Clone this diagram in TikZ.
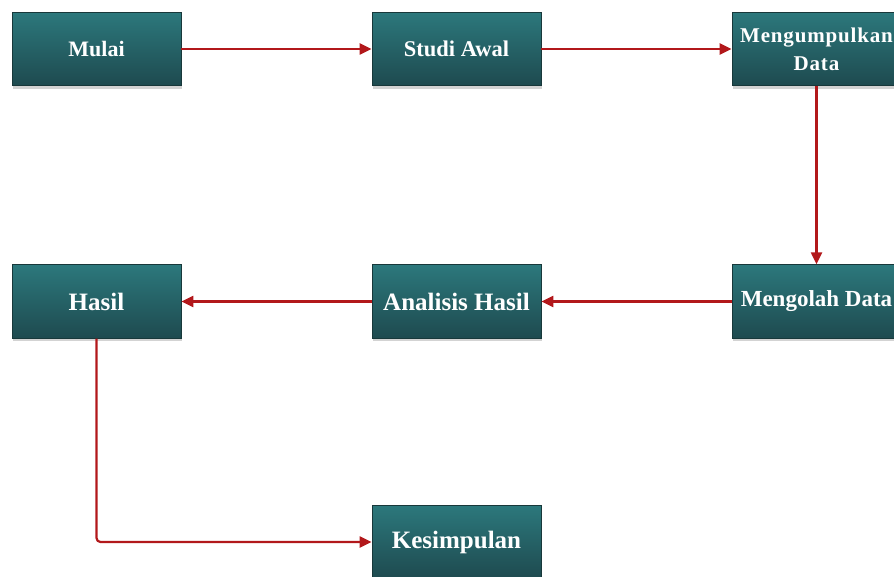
\documentclass[tikz,border=0pt]{standalone}
\usepackage{fontspec}
\setmainfont{Liberation Serif}
\newfontfamily\spacedserif[LetterSpace=4]{Liberation Serif}
\usetikzlibrary{arrows.meta,shadows}
\definecolor{boxtop}{RGB}{44,120,124}
\definecolor{boxbot}{RGB}{30,74,79}
\definecolor{boxline}{RGB}{24,56,58}
\definecolor{arrred}{RGB}{178,24,27}
\tikzset{
  stepbox/.style={draw=boxline, line width=0.8pt, top color=boxtop, bottom color=boxbot,
    minimum width=169pt, minimum height=73.5pt, inner sep=0pt, text=white,
    align=center,
    drop shadow={opacity=0.35, shadow xshift=1pt, shadow yshift=-3pt}},
  arr/.style={draw=arrred, line width=2.2pt, -{Triangle[length=12pt,width=11pt]}},
}
\begin{document}
\begin{tikzpicture}[x=1pt,y=-1pt]
\useasboundingbox (0,0) rectangle (894,577);
\node[stepbox, font=\bfseries\fontsize{22}{26}\selectfont] (mulai) at (96.5,49) {Mulai};
\node[stepbox, font=\bfseries\fontsize{22.5}{26}\selectfont] (studi) at (456.5,49) {Studi Awal};
\node[stepbox, font=\spacedserif\bfseries\fontsize{21}{28}\selectfont] (kumpul) at (816.5,49) {Mengumpulkan\\Data};
\node[stepbox, font=\bfseries\fontsize{23}{26}\selectfont] (olah) at (816.5,301.5) {Mengolah Data};
\node[stepbox, font=\bfseries\fontsize{25}{28}\selectfont] (analisis) at (456.5,301.5) {Analisis Hasil};
\node[stepbox, font=\bfseries\fontsize{25}{28}\selectfont] (hasil) at (96.5,301.5) {Hasil};
\node[stepbox, font=\bfseries\fontsize{25}{28}\selectfont] (kes) at (456.5,542) {Kesimpulan};
\draw[arr] (mulai) -- (studi);
\draw[arr] (studi) -- (kumpul);
\draw[arr] (kumpul) -- (olah);
\draw[arr] (olah) -- (analisis);
\draw[arr] (analisis) -- (hasil);
\draw[arr, rounded corners=4pt] (hasil.south) |- (kes.west);
\end{tikzpicture}
\end{document}
